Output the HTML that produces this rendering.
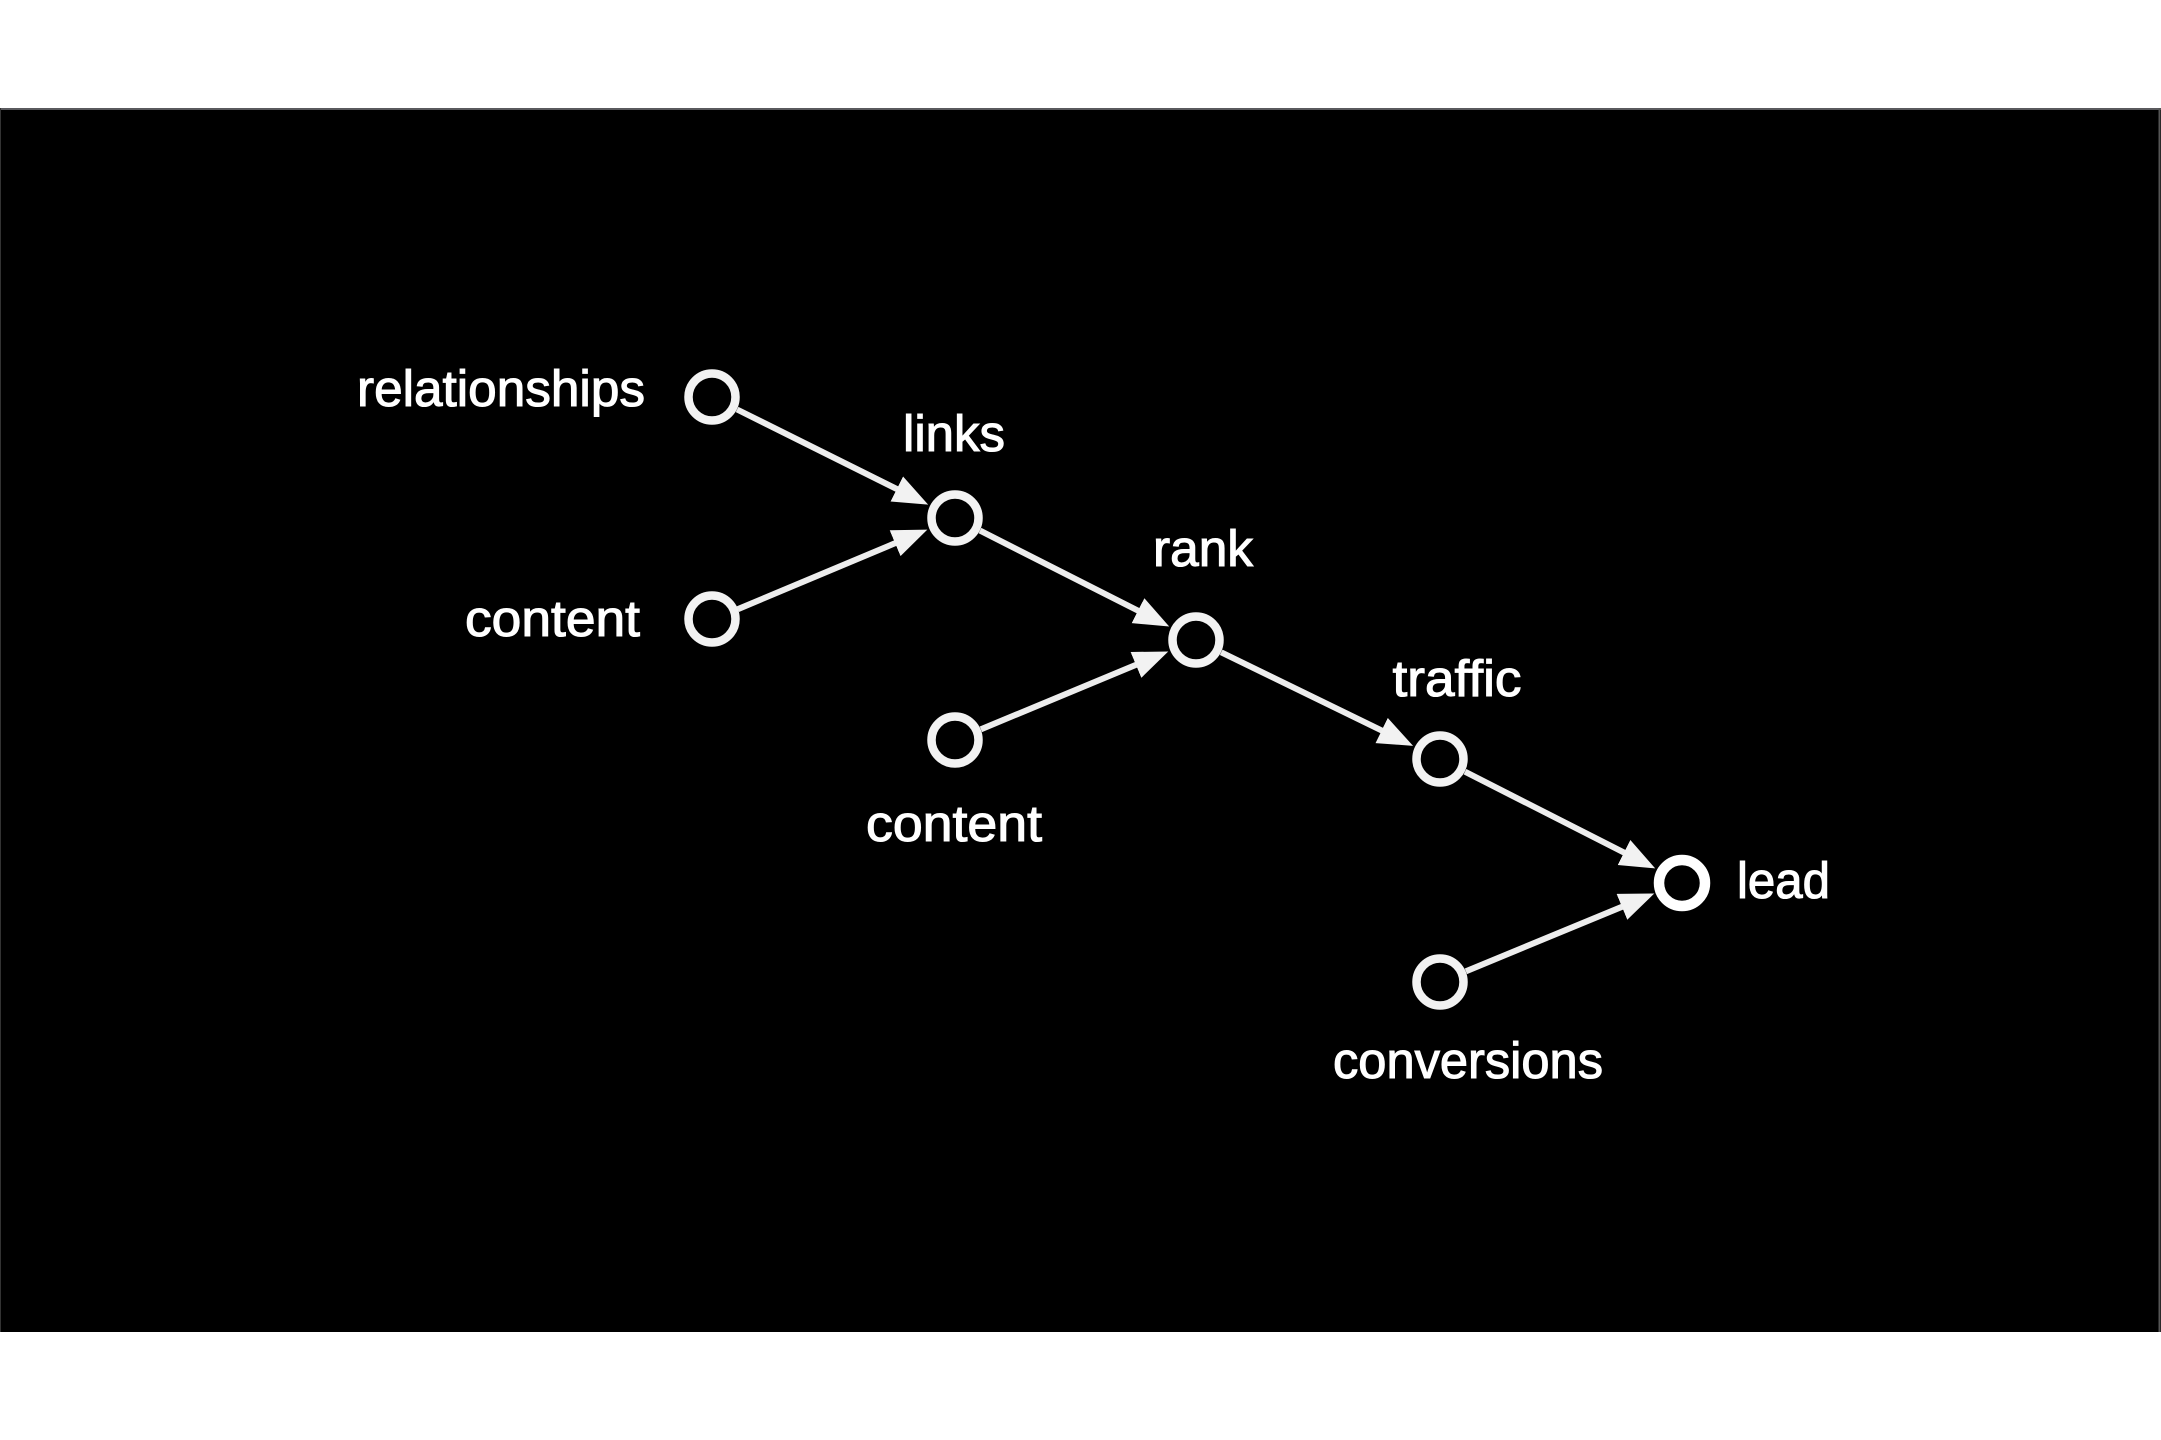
<!DOCTYPE html>
<html>
<head>
<meta charset="utf-8">
<style>
  html, body { margin: 0; padding: 0; background: #ffffff; }
  body { width: 2161px; height: 1440px; overflow: hidden; }
  svg { display: block; }
  text { font-family: "Liberation Sans", "DejaVu Sans", sans-serif; font-size: 51px; fill: #ffffff; stroke: #ffffff; stroke-width: 1.1px; }
</style>
</head>
<body>
<svg width="2161" height="1440" viewBox="0 0 2161 1440" xmlns="http://www.w3.org/2000/svg">
  <defs>
    <marker id="ah" markerUnits="userSpaceOnUse" markerWidth="38" markerHeight="30" refX="24" refY="14" orient="auto">
      <path d="M0,0 L35,14 L0,28 Z" fill="#f2f2f2"/>
    </marker>
  </defs>

  <rect x="0" y="0" width="2161" height="1440" fill="#ffffff"/>
  <rect x="0" y="108" width="2161" height="1224" fill="#000000"/>
  <line x1="0" y1="109" x2="2161" y2="109" stroke="#5a5a5e" stroke-width="2"/>
  <line x1="2159.5" y1="108" x2="2159.5" y2="1332" stroke="#555" stroke-width="2"/>
  <line x1="0.5" y1="108" x2="0.5" y2="1332" stroke="#333" stroke-width="1"/>

  <!-- connectors -->
  <g stroke="#ededed" stroke-width="6" fill="none" marker-end="url(#ah)">
    <line x1="737.1" y1="409.5" x2="918.3" y2="499.7"/>
    <line x1="737.8" y1="609.2" x2="917.2" y2="533.9"/>
    <line x1="980.0" y1="530.6" x2="1159.4" y2="621.5"/>
    <line x1="980.9" y1="729.3" x2="1158.1" y2="655.7"/>
    <line x1="1221.2" y1="652.3" x2="1403.2" y2="741.0"/>
    <line x1="1465.0" y1="771.7" x2="1645.4" y2="863.4"/>
    <line x1="1465.9" y1="971.3" x2="1644.1" y2="897.7"/>
  </g>

  <!-- nodes -->
  <g fill="none" stroke="#f2f2f2" stroke-width="8.5">
    <circle cx="712" cy="397" r="23.5"/>
    <circle cx="712" cy="619" r="23.5"/>
    <circle cx="955" cy="518" r="23.5"/>
    <circle cx="1196" cy="640" r="23.5"/>
    <circle cx="955" cy="740" r="23.5"/>
    <circle cx="1440" cy="759" r="23.5"/>
    <circle cx="1440" cy="982" r="23.5"/>
  </g>
  <circle cx="1682" cy="883" r="23" fill="none" stroke="#ffffff" stroke-width="10.5"/>

  <!-- labels -->
  <text x="645" y="406" text-anchor="end" textLength="288" lengthAdjust="spacingAndGlyphs">relationships</text>
  <text x="640" y="636" text-anchor="end" textLength="175" lengthAdjust="spacingAndGlyphs">content</text>
  <text x="954" y="451" text-anchor="middle" textLength="102" lengthAdjust="spacingAndGlyphs">links</text>
  <text x="1203" y="566" text-anchor="middle" textLength="100" lengthAdjust="spacingAndGlyphs">rank</text>
  <text x="954" y="841" text-anchor="middle" textLength="176" lengthAdjust="spacingAndGlyphs">content</text>
  <text x="1457" y="696" text-anchor="middle" textLength="129" lengthAdjust="spacingAndGlyphs">traffic</text>
  <text x="1737" y="898" text-anchor="start" textLength="93" lengthAdjust="spacingAndGlyphs">lead</text>
  <text x="1468" y="1078" text-anchor="middle" textLength="270" lengthAdjust="spacingAndGlyphs">conversions</text>
</svg>
</body>
</html>
